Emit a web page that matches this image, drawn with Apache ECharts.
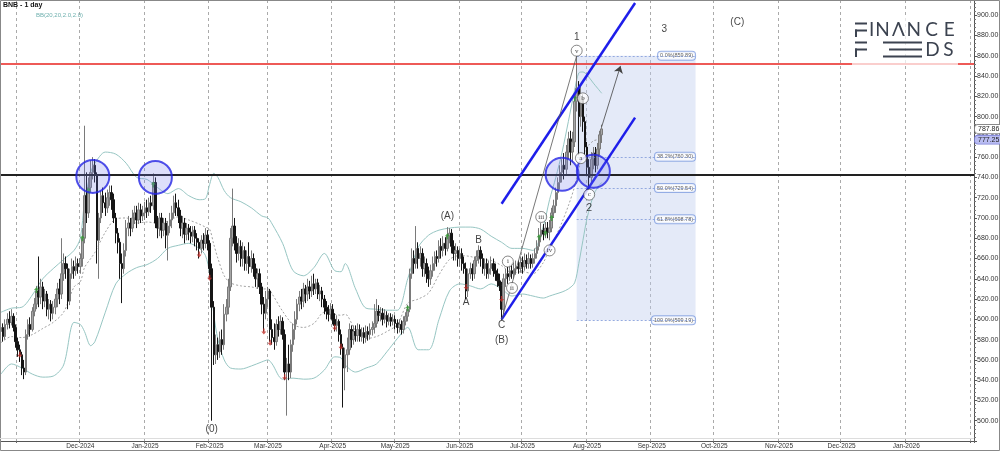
<!DOCTYPE html>
<html><head><meta charset="utf-8">
<script src="https://cdn.jsdelivr.net/npm/echarts@6/dist/echarts.min.js"></script>
<style>html,body{margin:0;padding:0;background:#fff}#c{width:1000px;height:451px}</style>
</head><body><div id="c"></div>
<script>
// ---------- DATA ----------
const firstDay = '2024-10-24';
const lastDay = '2026-02-02';
// daily candles [open, close, low, high]
const oct24 = [[588,592,580,598],[592,583,578,596],[583,595,580,600],[595,600,590,606],[600,597,591,608],[597,603,594,610],[603,592,588,606],[592,578,572,595]];
const nov24 = [[578,570,563,582],[570,565,558,575],[565,552,545,568],[552,548,541,560],[548,585,545,590],[585,595,580,600],[595,590,583,602],[590,608,588,612],[608,615,603,621],[615,628,610,633],[628,622,612,662],[622,632,615,640],[632,618,610,637],[618,625,612,630],[625,610,603,628],[610,615,600,620],[615,606,598,619],[606,612,600,618],[612,620,605,625],[620,630,612,636],[630,625,615,640],[625,645,620,680],[645,655,638,665],[655,650,640,662],[650,618,610,655],[618,645,614,650],[645,652,640,660],[652,648,640,658],[648,655,643,662],[655,652,645,660]];
const dec24 = [[652,660,645,665],[660,680,652,690],[680,722,675,791],[722,705,695,745],[705,730,700,740],[730,745,725,757],[745,752,738,760],[752,742,735,758],[742,678,655,745],[678,700,640,705],[700,722,695,727],[722,715,705,730],[715,710,702,725],[710,720,705,728],[720,725,712,732],[725,718,708,732],[718,700,695,724],[700,685,675,705],[685,676,665,690],[676,655,640,680],[655,650,616,665],[650,668,645,675],[668,690,662,698],[690,695,682,702],[695,690,682,700],[690,700,686,708],[700,705,694,712],[705,698,690,712],[698,708,694,715],[708,702,695,714],[702,705,697,712]];
const jan25 = [[705,710,698,716],[710,706,700,718],[706,715,702,720],[715,712,705,722],[712,735,708,744],[735,695,690,740],[695,690,680,702],[690,700,682,705],[700,688,680,705],[688,695,682,700],[695,683,670,700],[683,692,658,697],[692,698,685,705],[698,705,690,712],[705,715,700,722],[715,710,702,724],[710,702,695,718],[702,690,682,708],[690,695,680,702],[695,684,675,700],[684,690,678,695],[690,686,678,694],[686,682,675,692],[682,688,676,692],[688,680,672,692],[680,676,668,685],[676,670,660,680],[670,678,665,683],[678,675,668,685],[675,683,670,690],[683,675,668,688]];
const feb25 = [[675,650,640,678],[650,612,500,655],[612,565,555,618],[565,575,556,585],[575,568,560,582],[568,580,562,588],[580,575,565,590],[575,605,570,615],[605,612,598,620],[612,632,605,640],[632,680,628,690],[680,692,672,729],[692,675,668,700],[675,665,656,682],[665,672,658,680],[672,660,652,678],[660,668,652,676],[668,655,648,672],[655,662,648,668],[662,652,645,676],[652,660,646,668],[660,650,642,665],[650,640,632,655],[640,645,630,650],[645,632,625,650],[632,615,605,636],[615,606,588,622],[606,620,600,628]];
const mar25 = [[620,628,612,632],[628,590,578,630],[590,582,575,600],[582,578,570,596],[578,595,574,600],[595,590,583,603],[590,598,585,604],[598,585,580,602],[585,548,540,590],[548,556,505,562],[556,548,540,575],[548,575,542,580],[575,590,568,596],[590,600,580,608],[600,615,595,620],[615,622,608,628],[622,618,610,630],[618,630,612,636],[630,625,616,634],[625,632,618,640],[632,628,620,638],[628,635,622,643],[635,630,624,645],[630,636,625,640],[636,625,620,640],[625,628,618,634],[628,620,612,632],[620,612,605,624],[612,608,600,618],[608,605,598,614],[605,610,600,616]];
const apr25 = [[610,600,595,615],[600,594,588,606],[594,598,588,604],[598,585,578,600],[585,572,565,590],[572,552,513,576],[552,565,530,572],[565,570,548,582],[570,590,565,596],[590,580,572,594],[580,588,575,594],[588,584,578,594],[584,590,578,596],[590,583,578,595],[583,587,578,592],[587,582,576,592],[582,588,577,594],[588,585,579,593],[585,590,580,596],[590,592,584,598],[592,596,586,615],[596,608,592,620],[608,604,598,614],[604,606,598,612],[606,600,594,611],[600,604,596,610],[604,598,592,608],[598,602,594,606],[602,598,593,606],[598,600,594,605]];
const may25 = [[600,596,590,604],[596,592,586,600],[592,595,587,600],[595,590,585,599],[590,598,586,603],[598,603,594,607],[603,610,598,614],[610,645,607,650],[645,660,640,670],[660,655,645,668],[655,670,650,692],[670,660,650,676],[660,665,652,672],[665,650,642,670],[650,655,642,662],[655,645,636,660],[645,640,632,652],[640,648,634,654],[648,655,642,662],[655,662,648,667],[662,660,652,668],[660,672,656,678],[672,668,660,680],[668,675,662,682],[675,670,663,681],[670,682,667,691],[682,685,675,690],[685,672,665,689],[672,665,658,678],[665,668,658,675],[668,660,652,672]];
const jun25 = [[660,665,652,670],[665,655,648,670],[655,650,645,662],[650,628,620,656],[628,645,622,650],[645,650,640,656],[650,645,638,655],[645,658,640,662],[658,662,652,668],[662,668,655,673],[668,660,652,672],[660,650,645,665],[650,655,643,660],[655,645,640,660],[645,650,640,658],[650,655,644,662],[655,648,642,660],[648,645,638,655],[645,638,632,650],[638,633,628,645],[633,610,599.19,637],[610,640,605,645],[640,645,632,650],[645,642,635,652],[642,648,638,654],[648,645,640,655],[645,650,640,656],[650,652,644,658],[652,650,645,658],[650,656,646,662]];
const jul25 = [[656,652,645,662],[652,658,648,665],[658,655,650,664],[655,660,650,666],[660,655,650,664],[655,660,651,665],[660,665,655,670],[665,672,660,678],[672,682,668,690],[682,688,676,695],[688,684,678,694],[684,690,680,696],[690,686,680,696],[686,690,678,698],[690,705,686,710],[705,712,700,718],[712,725,705,730],[725,735,718,740],[735,745,728,752],[745,752,735,758],[752,748,738,764],[748,765,742,772],[765,778,758,785],[778,765,752,786],[765,775,755,785],[775,815,770,820],[815,828,805,859.89],[828,800,762,835],[800,818,790,830],[818,795,785,822],[795,770,762,800]];
const aug25 = [[770,750,742,775],[750,740,728,758],[740,758,733,765],[758,764,748,770],[764,752,745,770],[752,768,748,774],[768,782,762,786],[782,787.86,774,792]];

// Bollinger Bands BB(20,20,2.0,2.0)
const bbDates = ['2024-10-24','2024-10-29','2024-11-03','2024-11-08','2024-11-13','2024-11-18','2024-11-23','2024-11-28','2024-12-01','2024-12-03','2024-12-06','2024-12-08','2024-12-13','2024-12-18','2024-12-23','2024-12-28','2025-01-02','2025-01-07','2025-01-12','2025-01-17','2025-01-22','2025-01-27','2025-01-30','2025-02-01','2025-02-03','2025-02-05','2025-02-08','2025-02-11','2025-02-16','2025-02-21','2025-02-26','2025-03-01','2025-03-03','2025-03-08','2025-03-13','2025-03-18','2025-03-23','2025-03-28','2025-04-02','2025-04-05','2025-04-07','2025-04-12','2025-04-17','2025-04-22','2025-04-27','2025-05-02','2025-05-07','2025-05-12','2025-05-17','2025-05-22','2025-05-27','2025-06-01','2025-06-06','2025-06-11','2025-06-16','2025-06-21','2025-06-26','2025-07-01','2025-07-06','2025-07-11','2025-07-14','2025-07-17','2025-07-20','2025-07-23','2025-07-26','2025-07-28','2025-07-30','2025-08-01','2025-08-04','2025-08-06','2025-08-08'];
const bbUpper = [607,611,612,624,640,650,659,668,680,715,745,754,765,763,754,740,738,730,724,729,722,718,719,733,744,740,727,720,716,710,702,700,694,675,648,643,651,665,648,647,655,630,611,610,609,609,640,671,683,688,690,691,691,689,682,676,670,670,668,692,718,740,765,795,826,843,844,841,833,828,823];
const bbMiddle = [577,583,582,585,591,597,607,632,637,651,660,666,686,699,700,695,696,695,697,701,698,694,691,689,674,660,643,636,633,632,630,630,625,608,595,592,596,607,605,604,605,589,581,583,588,595,616,620,626,644,659,663,662,659,658,653,646,647,645,656,670,682,696,712,731,749,761,770,776,777,777];
const bbLower = [546,556,552,546,543,544,555,597,595,588,574,578,607,635,645,651,654,660,670,673,675,670,663,645,605,580,560,552,551,554,558,560,556,541,542,541,542,550,563,562,555,548,552,556,568,581,592,570,570,600,628,635,633,630,635,630,623,625,623,621,623,625,627,630,636,655,678,700,722,730,735];

// levels and annotations (data coordinates)
const resistanceLevel = 852;
const supportLevel = 743;
const fibNames = ['0.0%','38.2%','50.0%','61.8%','100.0%'];
const fibLevels = [859.89, 760.30, 729.54, 698.78, 599.19];
const fibFrom = '2025-07-27', fibTo = '2025-09-22';
const channelFrom = '2025-06-21', channelTo = '2025-08-24';
const channelLower = [600, 799];
const channelUpper = [714, 912];
const waveLine = [['2025-06-21', 599.19], ['2025-07-27', 859.89]];
const projection = [['2025-08-08', 790], ['2025-08-17', 850]];
const circleSpots = [['2024-12-07',741],['2025-01-06',740],['2025-07-20',743],['2025-08-04',746]];
const plainLabels = [['1','2025-07-27',878],['2','2025-08-02',710],['3','2025-09-07',886],['(C)','2025-10-12',893],['(A)','2025-05-26',702],['A','2025-06-04',617],['B','2025-06-10',678],['C','2025-06-21',594],['(B)','2025-06-21',579],['(0)','2025-02-02',492]];
const circledLabels = [['i','2025-06-24',657],['ii','2025-06-26',631],['iii','2025-07-10',701],['iv','2025-07-14',668],['v','2025-07-27',865],['a','2025-07-29',759],['b','2025-07-30',818],['c','2025-08-02',723]];
const upSignals = [['2024-11-10',629],['2024-12-02',680],['2024-12-05',727],['2025-01-05',733],['2025-05-07',611],['2025-05-26',682],['2025-07-09',681],['2025-07-12',685],['2025-07-15',700],['2025-07-26',818]];
const downSignals = [['2024-11-02',565],['2025-01-27',664],['2025-02-01',641],['2025-02-27',588],['2025-03-02',577],['2025-03-09',543],['2025-04-02',592],['2025-04-05',573],['2025-06-04',632],['2025-06-21',620]];
const priceTags = [[787.86,'#ffffff','#8a8a8a'],[777.25,'#b9bcf2','#7d80d8']];
const MONTHS = ['Jan','Feb','Mar','Apr','May','Jun','Jul','Aug','Sep','Oct','Nov','Dec'];

// ---------- BUILD ----------
function buildDates(a, b) {
  const r = []; let t = Date.parse(a + 'T00:00:00Z'); const e = Date.parse(b + 'T00:00:00Z');
  while (t <= e) { r.push(new Date(t).toISOString().slice(0, 10)); t += 86400000; }
  return r;
}
const categories = buildDates(firstDay, lastDay);
const candles = [].concat(oct24, nov24, dec24, jan25, feb25, mar25, apr25, may25, jun25, jul25, aug25);
const isMonthStart = (i, v) => String(v).slice(8) === '01';
const isLabelDay = (i, v) => isMonthStart(i, v) && v !== '2024-11-01' && v < '2026-02-01';
const FONT = '"Liberation Sans", Arial, sans-serif';

const chart = echarts.init(document.getElementById('c'), null, {renderer: 'canvas'});

const option = {
  animation: false,
  backgroundColor: '#ffffff',
  grid: {left: 0, right: 26, top: 0, bottom: 10, containLabel: false, outerBoundsMode: 'none'},
  xAxis: {
    type: 'category', data: categories, boundaryGap: true,
    axisLine: {lineStyle: {color: '#555', width: 1}},
    axisTick: {show: true, interval: isMonthStart, length: 2, lineStyle: {color: '#666'}},
    axisLabel: {interval: isLabelDay, fontSize: 6.5, color: '#333', margin: 2, fontFamily: FONT,
      formatter: v => MONTHS[+v.slice(5, 7) - 1] + '-' + v.slice(0, 4)},
    splitLine: {show: true, interval: isMonthStart, lineStyle: {color: '#aaaaaa', type: [3, 3], width: 1}}
  },
  yAxis: {
    type: 'value', position: 'right', min: 480, max: 915, interval: 20,
    axisLine: {show: true, lineStyle: {color: '#555'}},
    axisTick: {show: true, length: 3, lineStyle: {color: '#555'}},
    minorTick: {show: true, splitNumber: 5, length: 2, lineStyle: {color: '#777'}},
    axisLabel: {formatter: v => v.toFixed(2), fontSize: 7, color: '#333', margin: 3, fontFamily: FONT,
      showMinLabel: false, showMaxLabel: false},
    splitLine: {show: false}
  },
  series: [
    { // Fibonacci retracement box + levels + labels
      name: 'fib', type: 'scatter', z: 1, silent: true,
      data: fibLevels.map((v, k) => ({value: [fibTo, v], name: fibNames[k] + '(' + v.toFixed(2) + ')'})),
      symbolSize: 1, itemStyle: {color: 'rgba(0,0,0,0)'},
      label: {show: true, position: 'left', distance: 0, formatter: '{b}', fontSize: 5.5, color: '#333',
        fontFamily: FONT, backgroundColor: '#fff', borderColor: '#7f9de0', borderWidth: 1, borderRadius: 3, padding: [1, 2, 1, 2]},
      markArea: {silent: true, itemStyle: {color: 'rgba(190,205,238,0.42)'},
        data: [[{coord: [fibFrom, fibLevels[4]]}, {coord: [fibTo, fibLevels[0]]}]]},
      markLine: {silent: true, symbol: 'none', label: {show: false},
        lineStyle: {color: '#7d98d8', type: [2, 2], width: 0.8},
        data: fibLevels.map(v => [{coord: [fibFrom, v]}, {coord: [fibTo, v]}])}
    },
    {name: 'BB upper', type: 'line', z: 2, silent: true, smooth: 0.3, symbol: 'none',
      data: bbDates.map((d, k) => [d, bbUpper[k]]), lineStyle: {color: '#97c6c3', width: 1}},
    {name: 'BB lower', type: 'line', z: 2, silent: true, smooth: 0.3, symbol: 'none',
      data: bbDates.map((d, k) => [d, bbLower[k]]), lineStyle: {color: '#97c6c3', width: 1}},
    {name: 'BB middle', type: 'line', z: 2, silent: true, smooth: 0.3, symbol: 'none',
      data: bbDates.map((d, k) => [d, bbMiddle[k]]), lineStyle: {color: '#8a8a8a', width: 0.8, type: [2, 2]}},
    {
      name: 'BNB', type: 'candlestick', z: 3, silent: true, barWidth: 2,
      data: candles,
      itemStyle: {color: '#a6a6a6', color0: '#151515', borderColor: '#7a7a7a', borderColor0: '#151515', borderWidth: 1},
      markLine: {
        silent: true, symbol: 'none', label: {show: false},
        data: [
          {yAxis: resistanceLevel, lineStyle: {color: '#e8231f', width: 1.5, type: 'solid'}},
          {yAxis: supportLevel, lineStyle: {color: '#222', width: 2, type: 'solid'}},
          [{coord: [channelFrom, channelLower[0]], lineStyle: {color: '#1e1eea', width: 2.5, type: 'solid'}}, {coord: [channelTo, channelLower[1]]}],
          [{coord: [channelFrom, channelUpper[0]], lineStyle: {color: '#1e1eea', width: 2.5, type: 'solid'}}, {coord: [channelTo, channelUpper[1]]}],
          [{coord: waveLine[0], lineStyle: {color: '#555', width: 0.8, type: 'solid'}}, {coord: waveLine[1]}],
          [{coord: projection[0], lineStyle: {color: '#444', width: 0.8, type: 'solid'}}, {coord: projection[1], symbol: 'arrow', symbolSize: 7}]
        ]
      }
    },
    {name: 'up', type: 'scatter', z: 4, silent: true, data: upSignals,
      symbol: 'path://M5,0 L10,5 L6.5,5 L6.5,10 L3.5,10 L3.5,5 L0,5 Z', symbolSize: [5, 6],
      itemStyle: {color: '#2f9a2f'}},
    {name: 'down', type: 'scatter', z: 4, silent: true, data: downSignals,
      symbol: 'path://M5,0 L10,5 L6.5,5 L6.5,10 L3.5,10 L3.5,5 L0,5 Z', symbolSize: [5, 6], symbolRotate: 180,
      itemStyle: {color: '#c0302a'}},
    {name: 'circles', type: 'scatter', z: 5, silent: true, data: circleSpots, symbol: 'circle', symbolSize: 33,
      itemStyle: {color: 'rgba(115,125,235,0.3)', borderColor: '#2424e4', borderWidth: 2}},
    {name: 'waves', type: 'scatter', z: 6, silent: true,
      data: plainLabels.map(a => ({value: [a[1], a[2]], name: a[0]})), symbolSize: 1, itemStyle: {color: 'rgba(0,0,0,0)'},
      label: {show: true, position: 'inside', formatter: '{b}', fontSize: 10, color: '#111', fontFamily: FONT}},
    {name: 'subwaves', type: 'scatter', z: 7, silent: true,
      data: circledLabels.map(a => ({value: [a[1], a[2]], name: a[0]})), symbol: 'circle', symbolSize: 11,
      itemStyle: {color: '#fff', borderColor: '#444', borderWidth: 0.8},
      label: {show: true, position: 'inside', formatter: '{b}', fontSize: 7, color: '#111', fontFamily: '"Liberation Serif", serif'}}
  ]
};
chart.setOption(option);

// ---------- static decorations ----------
const ink = '#3c4350';
const graphics = [
  {type: 'rect', shape: {x: 0.5, y: 0.5, width: 999, height: 450}, style: {fill: null, stroke: '#888', lineWidth: 1}, z: 50, silent: true},
  {type: 'line', shape: {x1: 0, y1: 438.5, x2: 974, y2: 438.5}, style: {stroke: '#ddd', lineWidth: 1}, z: 50, silent: true},
  {type: 'text', x: 3, y: 2, style: {text: 'BNB - 1 day', font: 'bold 7px ' + FONT, fill: '#111'}, z: 60},
  {type: 'text', x: 36, y: 12, style: {text: 'BB(20,20,2.0,2.0)', font: '6px ' + FONT, fill: '#6fb0ae'}, z: 60},
  // logo
  {type: 'rect', shape: {x: 852, y: 18, width: 106, height: 47}, style: {fill: 'rgba(255,255,255,0.7)'}, z: 70, silent: true},
  {type: 'rect', shape: {x: 855, y: 22.5, width: 12, height: 2}, style: {fill: ink}, z: 71},
  {type: 'rect', shape: {x: 855, y: 29.5, width: 12, height: 2}, style: {fill: ink}, z: 71},
  {type: 'rect', shape: {x: 855, y: 29.5, width: 2, height: 7.5}, style: {fill: ink}, z: 71},
  {type: 'rect', shape: {x: 855, y: 41.5, width: 12, height: 2}, style: {fill: ink}, z: 71},
  {type: 'rect', shape: {x: 855, y: 48.5, width: 12, height: 2}, style: {fill: ink}, z: 71},
  {type: 'rect', shape: {x: 855, y: 48.5, width: 2, height: 8.5}, style: {fill: ink}, z: 71},
  {type: 'rect', shape: {x: 883, y: 41.5, width: 39, height: 2}, style: {fill: ink}, z: 71},
  {type: 'rect', shape: {x: 889, y: 48.5, width: 33, height: 2}, style: {fill: ink}, z: 71},
  {type: 'rect', shape: {x: 883, y: 55.5, width: 39, height: 2}, style: {fill: ink}, z: 71}
];
const logoTop = [['I',871.7],['N',882.5],['Λ',898.3],['N',913.8],['C',931.7],['E',949.2]];
logoTop.forEach(([ch, cx]) => graphics.push({type: 'text', x: cx, y: 30, z: 71,
  style: {text: ch, font: '19px Lato, "Open Sans", sans-serif', fill: ink, align: 'center', verticalAlign: 'middle'}}));
[['D',932.5],['S',948.5]].forEach(([ch, cx]) => graphics.push({type: 'text', x: cx, y: 49.5, z: 71,
  style: {text: ch, font: '19px Lato, "Open Sans", sans-serif', fill: ink, align: 'center', verticalAlign: 'middle'}}));
// price tags on the axis, positioned through the y scale
priceTags.forEach(([v, bg, bc]) => graphics.push({type: 'text', x: 975, y: chart.convertToPixel({yAxisIndex: 0}, v), z: 80,
  style: {text: v.toFixed(2), font: '7px ' + FONT, fill: '#222', backgroundColor: bg, borderColor: bc, borderWidth: 0.8,
    borderRadius: 3, padding: [1, 3, 0, 3], verticalAlign: 'middle'}}));
chart.setOption({graphic: graphics});
</script>
</body></html>
